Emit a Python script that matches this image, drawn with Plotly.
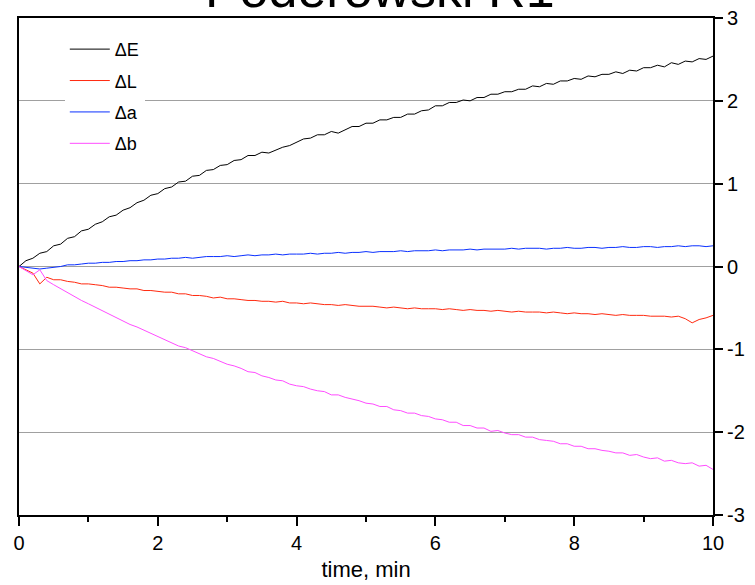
import plotly.graph_objects as go

time_min = [round(i * 0.1, 1) for i in range(101)]

dE = [0.00, 0.07, 0.10, 0.16, 0.18, 0.25, 0.27, 0.34, 0.36, 0.43,
      0.45, 0.51, 0.54, 0.60, 0.62, 0.68, 0.71, 0.77, 0.80, 0.86,
      0.88, 0.94, 0.96, 1.02, 1.03, 1.09, 1.10, 1.16, 1.17, 1.22,
      1.23, 1.28, 1.29, 1.34, 1.34, 1.38, 1.37, 1.41, 1.44, 1.46,
      1.50, 1.54, 1.55, 1.59, 1.59, 1.63, 1.61, 1.65, 1.69, 1.69,
      1.73, 1.73, 1.77, 1.77, 1.80, 1.80, 1.84, 1.84, 1.88, 1.89,
      1.94, 1.94, 1.98, 1.98, 2.01, 2.00, 2.04, 2.04, 2.08, 2.08,
      2.11, 2.11, 2.14, 2.14, 2.18, 2.17, 2.21, 2.20, 2.24, 2.24,
      2.27, 2.26, 2.30, 2.29, 2.32, 2.32, 2.35, 2.33, 2.37, 2.36,
      2.40, 2.40, 2.43, 2.41, 2.46, 2.44, 2.48, 2.47, 2.51, 2.50,
      2.54]

dL = [0.00, -0.04, -0.08, -0.21, -0.13, -0.16, -0.16, -0.18, -0.19, -0.21,
      -0.21, -0.22, -0.23, -0.25, -0.25, -0.26, -0.27, -0.27, -0.29, -0.29,
      -0.30, -0.31, -0.31, -0.33, -0.33, -0.35, -0.35, -0.36, -0.38, -0.37,
      -0.39, -0.39, -0.40, -0.41, -0.41, -0.42, -0.42, -0.43, -0.42, -0.44,
      -0.44, -0.45, -0.44, -0.45, -0.46, -0.46, -0.47, -0.46, -0.47, -0.48,
      -0.48, -0.48, -0.49, -0.50, -0.49, -0.50, -0.51, -0.50, -0.51, -0.51,
      -0.51, -0.52, -0.51, -0.52, -0.53, -0.52, -0.53, -0.53, -0.54, -0.53,
      -0.54, -0.55, -0.54, -0.55, -0.55, -0.55, -0.56, -0.55, -0.56, -0.57,
      -0.56, -0.57, -0.57, -0.58, -0.57, -0.58, -0.59, -0.58, -0.59, -0.59,
      -0.59, -0.60, -0.60, -0.60, -0.61, -0.60, -0.63, -0.68, -0.64, -0.62,
      -0.59]

da = [0.00, -0.01, -0.02, -0.03, -0.02, -0.01, 0.00, 0.02, 0.02, 0.03,
      0.04, 0.04, 0.05, 0.05, 0.06, 0.06, 0.07, 0.07, 0.08, 0.08,
      0.09, 0.09, 0.10, 0.10, 0.11, 0.10, 0.11, 0.12, 0.12, 0.12,
      0.13, 0.12, 0.13, 0.14, 0.13, 0.14, 0.14, 0.15, 0.14, 0.15,
      0.15, 0.15, 0.16, 0.15, 0.16, 0.16, 0.17, 0.16, 0.17, 0.17,
      0.18, 0.17, 0.18, 0.18, 0.18, 0.19, 0.18, 0.19, 0.19, 0.19,
      0.20, 0.19, 0.20, 0.20, 0.20, 0.21, 0.20, 0.21, 0.21, 0.21,
      0.21, 0.22, 0.21, 0.22, 0.22, 0.22, 0.21, 0.22, 0.22, 0.23,
      0.22, 0.22, 0.23, 0.23, 0.22, 0.23, 0.23, 0.24, 0.23, 0.23,
      0.24, 0.24, 0.23, 0.24, 0.24, 0.25, 0.24, 0.25, 0.25, 0.24,
      0.25]

db = [0.00, -0.05, -0.10, -0.04, -0.17, -0.22, -0.27, -0.31, -0.36, -0.41,
      -0.45, -0.49, -0.53, -0.58, -0.61, -0.66, -0.70, -0.73, -0.77, -0.81,
      -0.85, -0.88, -0.92, -0.96, -0.98, -1.02, -1.05, -1.09, -1.11, -1.15,
      -1.18, -1.20, -1.23, -1.27, -1.28, -1.32, -1.34, -1.37, -1.38, -1.42,
      -1.44, -1.45, -1.48, -1.50, -1.51, -1.55, -1.55, -1.58, -1.60, -1.62,
      -1.65, -1.66, -1.69, -1.69, -1.73, -1.74, -1.77, -1.77, -1.80, -1.81,
      -1.84, -1.85, -1.88, -1.88, -1.92, -1.92, -1.95, -1.95, -1.99, -1.98,
      -2.01, -2.03, -2.03, -2.06, -2.06, -2.09, -2.10, -2.11, -2.14, -2.14,
      -2.17, -2.17, -2.20, -2.20, -2.22, -2.23, -2.25, -2.25, -2.28, -2.27,
      -2.30, -2.32, -2.31, -2.35, -2.34, -2.37, -2.38, -2.37, -2.41, -2.40,
      -2.45]

series_names = ["\u0394E", "\u0394L", "\u0394a", "\u0394b"]
series_values = [dE, dL, da, db]
series_colors = ["#000000", "#ff2a10", "#0a30ff", "#ff4cff"]

y_ticks = [-3, -2, -1, 0, 1, 2, 3]
y_tick_labels = ["-3", "-2", "-1", "0", "1", "2", "3"]
x_ticks = [0, 2, 4, 6, 8, 10]

FONT = "Arial, Liberation Sans, sans-serif"

fig = go.Figure()
for i, (name, vals, col) in enumerate(zip(series_names, series_values, series_colors)):
    fig.add_trace(go.Scatter(
        x=time_min, y=vals, mode="lines", name=name,
        line=dict(color=col, width=1), legendgroup=f"g{i}",
    ))

fig.update_layout(
    width=755, height=585,
    margin=dict(l=19, r=42, t=18, b=70, autoexpand=False),
    paper_bgcolor="white", plot_bgcolor="white",
    font=dict(family=FONT, color="black"),
    title=dict(text="Poderowski R1", x=0.503, xanchor="center",
               y=0.988, yref="container", yanchor="bottom",
               font=dict(size=52, family=FONT, color="black")),
    showlegend=True,
    legend=dict(x=0.066, y=0.974, xanchor="left", yanchor="top",
                bgcolor="white", borderwidth=0,
                font=dict(size=18, family=FONT),
                traceorder="grouped", tracegroupgap=5,
                itemwidth=40),
    xaxis=dict(range=[0, 10], tickvals=x_ticks, ticks="outside", ticklen=9, tickwidth=2,
               tickcolor="black", showline=True, linecolor="black", linewidth=2,
               mirror=True, showgrid=False, zeroline=False, automargin=False,
               ticklabeloverflow="allow",
               tickfont=dict(size=20, family=FONT),
               minor=dict(dtick=1, ticks="outside", ticklen=5, tickwidth=2, tickcolor="black"),
               title=dict(text="time, min", font=dict(size=22, family=FONT), standoff=9)),
    yaxis=dict(range=[-3, 3], tickvals=y_ticks, ticktext=y_tick_labels, side="right",
               ticks="outside", ticklen=8, ticklabeloverflow="allow",
               tickwidth=2, tickcolor="black", showline=True, linecolor="black", linewidth=2,
               mirror=True, showgrid=True, gridcolor="#a0a0a0", gridwidth=1,
               zeroline=True, zerolinecolor="#a0a0a0", zerolinewidth=1, automargin=False,
               tickfont=dict(size=20, family=FONT)),
)

fig.write_html("out.html", config={"displayModeBar": False},
               post_script="document.body.style.margin='0px';")
